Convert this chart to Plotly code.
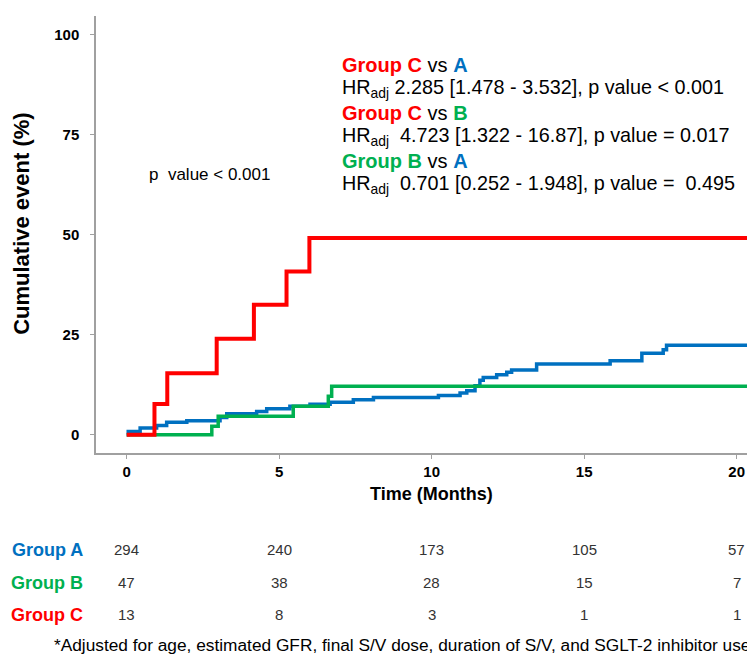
import plotly.graph_objects as go

# ---- data ----
time_a = [0, 0.05, 0.44, 0.98, 1.31, 1.97, 3.06, 3.28, 4.26, 4.59, 5.35, 6.01, 6.67, 7.43, 8.09,
          10.22, 10.93, 11.15, 11.42, 11.58, 11.69, 12.13, 12.46, 12.62, 13.44, 15.85, 16.89,
          17.59, 17.70, 20.5]
event_a = [0, 0.8, 1.7, 2.3, 3.1, 3.5, 4.3, 5.25, 5.8, 6.5, 7.1, 7.6, 8.1, 8.75, 9.3,
           9.8, 10.4, 11.0, 12.25, 13.6, 14.3, 15.0, 15.6, 16.2, 17.7, 18.5, 20.4,
           21.25, 22.4, 22.4]

time_b = [0, 2.79, 3.0, 5.46, 6.61, 6.72, 20.5]
event_b = [0, 2.1, 4.6, 7.1, 9.6, 12.1, 12.1]

time_c = [0, 0.91, 1.33, 2.95, 4.17, 5.24, 5.99, 20.5]
event_c = [0, 7.7, 15.4, 24.0, 32.5, 40.8, 49.2, 49.2]

x_ticks = [0, 5, 10, 15, 20]
y_ticks = [0, 25, 50, 75, 100]

risk_groups = ["Group A", "Group B", "Group C"]
risk_a = [294, 240, 173, 105, 57]
risk_b = [47, 38, 28, 15, 7]
risk_c = [13, 8, 3, 1, 1]

hr_heads = [("C", "A"), ("C", "B"), ("B", "A")]
hr_texts = [
    "HR<sub>adj</sub> 2.285 [1.478 - 3.532], p value < 0.001",
    "HR<sub>adj</sub>  4.723 [1.322 - 16.87], p value = 0.017",
    "HR<sub>adj</sub>  0.701 [0.252 - 1.948], p value =  0.495",
]
logrank_text = "p  value < 0.001"
footnote = "*Adjusted for age, estimated GFR, final S/V dose, duration of S/V, and SGLT-2 inhibitor use"

# ---- style ----
RED = "#FF0000"
BLUE = "#0070C0"
GREEN = "#00B050"
AXIS = "#A0A0A0"
FONT = "Arial, Liberation Sans, sans-serif"
group_color = {"A": BLUE, "B": GREEN, "C": RED}

# page body has an 8px margin; work in page pixels and shift the figure
OFF = 8
W, H = 755 - OFF, 657 - OFF
L, T, B_PX, R_PX = 96, 16, 453.3, 755
PW, PH = R_PX - L, B_PX - T


def pxx(px):
    return (px - L) / PW


def pxy(py):
    return (B_PX - py) / PH


fig = go.Figure()
fig.add_trace(go.Scatter(x=time_a, y=event_a, mode="lines", line=dict(color=BLUE, width=3.5, shape="hv"),
                         showlegend=False))
fig.add_trace(go.Scatter(x=time_b, y=event_b, mode="lines", line=dict(color=GREEN, width=3.5, shape="hv"),
                         showlegend=False))
fig.add_trace(go.Scatter(x=time_c, y=event_c, mode="lines", line=dict(color=RED, width=4, shape="hv"),
                         showlegend=False))

ann = []
ann.append(dict(text="<b>Cumulative event (%)</b>", x=pxx(22), y=pxy(224), xref="paper", yref="paper",
                textangle=-90, showarrow=False, font=dict(size=22, color="black", family=FONT),
                xanchor="center", yanchor="middle"))
ann.append(dict(text="<b>Time (Months)</b>", x=10, y=pxy(494), xref="x", yref="paper",
                showarrow=False, font=dict(size=18, color="black", family=FONT),
                xanchor="center", yanchor="middle"))
ann.append(dict(text=logrank_text, x=pxx(147), y=pxy(175), xref="paper", yref="paper", showarrow=False,
                font=dict(size=17, color="black", family=FONT), xanchor="left", yanchor="middle"))

line_y = [65, 89, 113, 137, 161, 185]
for i, ((g1, g2), txt) in enumerate(zip(hr_heads, hr_texts)):
    head = (f"<b><span style='color:{group_color[g1]}'>Group {g1}</span></b> vs "
            f"<b><span style='color:{group_color[g2]}'>{g2}</span></b>")
    ann.append(dict(text=head, x=pxx(340), y=pxy(line_y[2 * i]), xref="paper", yref="paper",
                    showarrow=False, font=dict(size=20, color="black", family=FONT),
                    xanchor="left", yanchor="middle"))
    ann.append(dict(text=txt, x=pxx(340), y=pxy(line_y[2 * i + 1]), xref="paper", yref="paper",
                    showarrow=False, font=dict(size=19.8, color="black", family=FONT),
                    xanchor="left", yanchor="middle"))

row_y = [550, 583, 615]
row_colors = [BLUE, GREEN, RED]
for name, vals, col, ry in zip(risk_groups, [risk_a, risk_b, risk_c], row_colors, row_y):
    ann.append(dict(text=f"<b>{name}</b>", x=pxx(47), y=pxy(ry), xref="paper", yref="paper",
                    showarrow=False, font=dict(size=18, color=col, family=FONT),
                    xanchor="center", yanchor="middle"))
    for t, v in zip(x_ticks, vals):
        ann.append(dict(text=str(v), x=t, y=pxy(ry), xref="x", yref="paper", showarrow=False,
                        font=dict(size=15, color="#333333", family=FONT),
                        xanchor="center", yanchor="middle"))

ann.append(dict(text=footnote, x=pxx(752), y=pxy(645), xref="paper", yref="paper", showarrow=False,
                font=dict(size=17.3, color="black", family=FONT), xanchor="right", yanchor="middle"))

fig.update_layout(
    width=W, height=H,
    margin=dict(l=L - OFF, r=0, t=T - OFF, b=H - (B_PX - OFF), pad=0),
    paper_bgcolor="white", plot_bgcolor="white",
    font=dict(family=FONT, color="black"),
    annotations=ann,
    xaxis=dict(range=[-1.007, 20.6], tickvals=x_ticks, ticktext=[f"<b>{v}</b>" for v in x_ticks],
               showgrid=False, zeroline=False, showline=True, linecolor=AXIS, linewidth=1.5,
               ticks="outside", ticklen=4, tickcolor=AXIS, tickwidth=1,
               tickfont=dict(size=15, color="black", family=FONT)),
    yaxis=dict(range=[-4.58, 104.75], tickvals=y_ticks, ticktext=[f"<b>{v}</b>" for v in y_ticks],
               showgrid=False, zeroline=False, showline=True, linecolor=AXIS, linewidth=1.5,
               ticks="outside", ticklen=4, tickcolor=AXIS, tickwidth=1, ticklabelstandoff=8,
               tickfont=dict(size=15, color="black", family=FONT)),
)

fig.write_html("out.html")
